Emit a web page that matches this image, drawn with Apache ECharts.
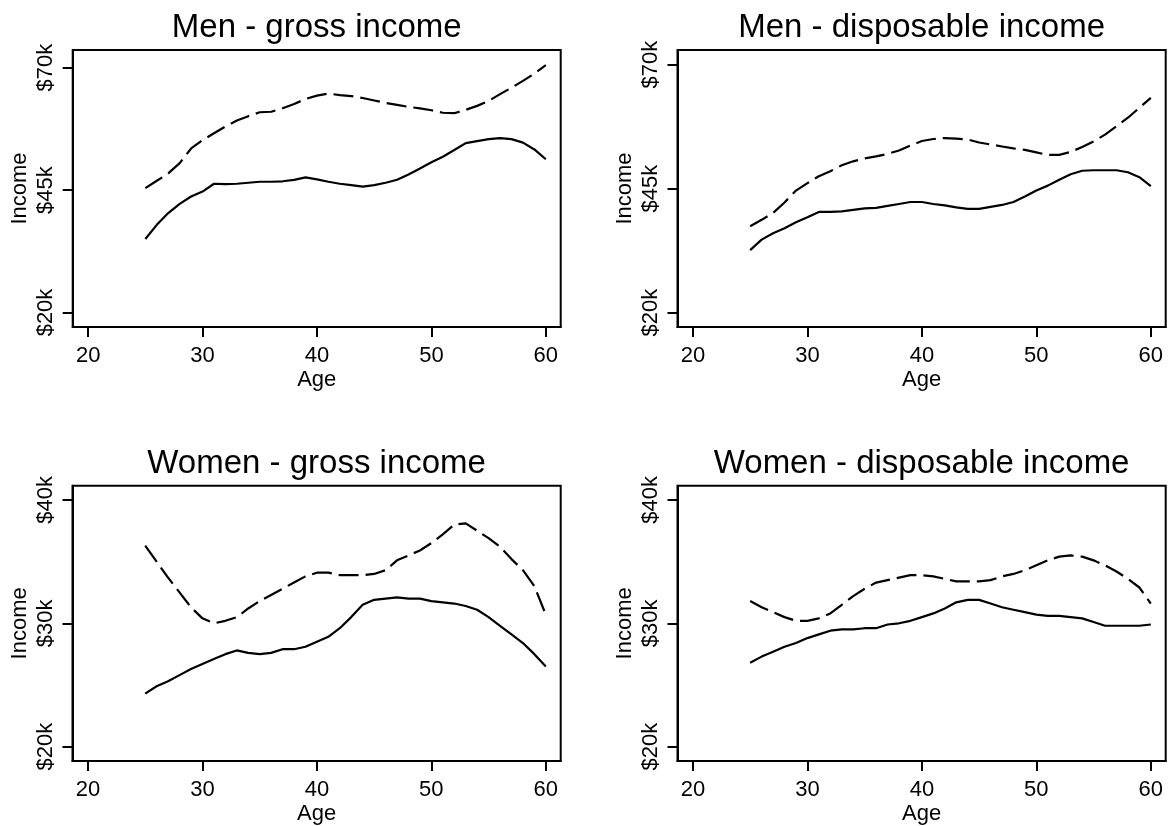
<!DOCTYPE html>
<html><head><meta charset="utf-8">
<script src="https://cdn.jsdelivr.net/npm/echarts@6/dist/echarts.min.js"></script>
<style>html,body{margin:0;padding:0;background:#fff}#c{width:1173px;height:826px}</style>
</head><body><div id="c"></div>
<script>
const ages = [25,26,27,28,29,30,31,32,33,34,35,36,37,38,39,40,41,42,43,44,45,46,47,48,49,50,51,52,53,54,55,56,57,58,59,60];

const menGrossSolid  = [35.0,37.9,40.3,42.2,43.7,44.7,46.3,46.2,46.3,46.5,46.7,46.7,46.8,47.1,47.6,47.2,46.7,46.3,46.0,45.7,46.0,46.5,47.1,48.2,49.4,50.7,51.8,53.2,54.6,55.0,55.4,55.6,55.4,54.7,53.3,51.3];
const menGrossDashed = [45.4,46.9,48.4,50.5,53.5,55.2,56.6,58.0,59.2,60.1,60.9,61.0,61.7,62.6,63.6,64.3,64.7,64.4,64.2,63.8,63.3,62.8,62.4,62.0,61.7,61.3,60.8,60.7,61.4,62.2,63.2,64.6,65.9,67.3,68.8,70.5];

const menDispSolid  = [32.6,34.7,36.0,37.0,38.2,39.2,40.3,40.3,40.4,40.7,41.0,41.1,41.5,41.9,42.3,42.3,41.9,41.6,41.2,40.9,40.9,41.3,41.7,42.3,43.4,44.6,45.6,46.8,47.9,48.6,48.7,48.7,48.7,48.3,47.3,45.5];
const menDispDashed = [37.4,38.7,40.1,42.2,44.6,46.1,47.5,48.5,49.7,50.5,51.1,51.5,52.0,52.7,53.7,54.6,55.0,55.2,55.1,54.9,54.3,53.9,53.5,53.1,52.8,52.3,51.8,51.8,52.4,53.4,54.5,55.9,57.6,59.3,61.3,63.3];

const womenGrossSolid  = [24.3,24.9,25.3,25.8,26.3,26.7,27.1,27.5,27.8,27.6,27.5,27.6,27.9,27.9,28.1,28.5,28.9,29.6,30.5,31.5,31.9,32.0,32.1,32.0,32.0,31.8,31.7,31.6,31.4,31.1,30.5,29.8,29.1,28.4,27.5,26.5];
const womenGrossDashed = [36.3,35.0,33.7,32.5,31.3,30.4,30.0,30.2,30.5,31.2,31.8,32.3,32.8,33.3,33.8,34.1,34.1,33.9,33.9,33.9,34.0,34.3,35.1,35.5,35.9,36.5,37.2,38.0,38.1,37.5,36.9,36.2,35.2,34.3,33.0,30.7];

const womenDispSolid  = [26.8,27.3,27.7,28.1,28.4,28.8,29.1,29.4,29.5,29.5,29.6,29.6,29.9,30.0,30.2,30.5,30.8,31.2,31.7,31.9,31.9,31.6,31.3,31.1,30.9,30.7,30.6,30.6,30.5,30.4,30.1,29.8,29.8,29.8,29.8,29.9];
const womenDispDashed = [31.8,31.3,30.9,30.5,30.2,30.2,30.4,30.8,31.5,32.2,32.8,33.3,33.5,33.7,33.9,33.9,33.8,33.6,33.4,33.4,33.4,33.5,33.8,34.0,34.3,34.7,35.1,35.4,35.5,35.4,35.1,34.7,34.2,33.6,32.9,31.6];

const panelTitles = ['Men - gross income','Men - disposable income','Women - gross income','Women - disposable income'];
const xTicks = [20,30,40,50,60];
const menYTicks = [20,45,70];
const womenYTicks = [20,30,40];

const panels = [
  {title: panelTitles[0], solid: menGrossSolid,   dashed: menGrossDashed,   yTicks: menYTicks},
  {title: panelTitles[1], solid: menDispSolid,    dashed: menDispDashed,    yTicks: menYTicks},
  {title: panelTitles[2], solid: womenGrossSolid, dashed: womenGrossDashed, yTicks: womenYTicks},
  {title: panelTitles[3], solid: womenDispSolid,  dashed: womenDispDashed,  yTicks: womenYTicks}
];

const FONT = "'Liberation Sans', Arial, Helvetica, sans-serif";
const layout = [
  {left:72.7,  top:50,    width:488,   height:277, ymin:17.04, ymax:73.61, xGap:42,   titleTop:11},
  {left:677.5, top:50,    width:488.2, height:277, ymin:17.08, ymax:72.96, xGap:42,   titleTop:11},
  {left:72.5,  top:485.7, width:488.2, height:277, ymin:18.84, ymax:41.15, xGap:42,   titleTop:447},
  {left:677.5, top:485.7, width:488.2, height:277, ymin:18.84, ymax:41.15, xGap:42,   titleTop:447}
];

const option = {
  animation: false,
  backgroundColor: '#fff',
  title: [], grid: [], xAxis: [], yAxis: [], series: []
};

panels.forEach((p, i) => {
  const L = layout[i];
  option.title.push({
    text: p.title, left: L.left + L.width / 2, top: L.titleTop, textAlign: 'center', padding: 0,
    textStyle: {fontSize: 33, fontWeight: 'normal', color: '#000', fontFamily: FONT}
  });
  option.grid.push({
    left: L.left, top: L.top, width: L.width, height: L.height,
    show: true, borderColor: '#000', borderWidth: 2, backgroundColor: '#fff', containLabel: false
  });
  const axisCommon = {
    axisLine: {show: true, onZero: false, lineStyle: {color: '#000', width: 2}},
    splitLine: {show: false}
  };
  option.xAxis.push(Object.assign({
    gridIndex: i, type: 'value', min: 18.65, max: 61.3,
    name: 'Age', nameLocation: 'middle', nameGap: L.xGap,
    nameTextStyle: {fontSize: 22, color: '#000', fontFamily: FONT},
    axisTick: {show: true, length: 10, lineStyle: {color: '#000', width: 2}, customValues: xTicks},
    axisLabel: {fontSize: 22, color: '#000', margin: 17.5, fontFamily: FONT, customValues: xTicks}
  }, axisCommon));
  option.yAxis.push(Object.assign({
    gridIndex: i, type: 'value', min: L.ymin, max: L.ymax,
    name: 'Income', nameLocation: 'middle', nameGap: 42, nameRotate: 90,
    nameTextStyle: {fontSize: 22, color: '#000', fontFamily: FONT},
    axisTick: {show: true, length: 10, lineStyle: {color: '#000', width: 2}, customValues: p.yTicks},
    axisLabel: {fontSize: 22, color: '#000', margin: 16, rotate: 90, fontFamily: FONT,
                customValues: p.yTicks, formatter: v => '$' + v + 'k'}
  }, axisCommon));
  option.series.push({
    type: 'line', xAxisIndex: i, yAxisIndex: i, symbol: 'none', silent: true,
    data: ages.map((a, j) => [a, p.solid[j]]),
    lineStyle: {color: '#000', width: 2.2, type: 'solid'}
  });
  option.series.push({
    type: 'line', xAxisIndex: i, yAxisIndex: i, symbol: 'none', silent: true,
    data: ages.map((a, j) => [a, p.dashed[j]]),
    lineStyle: {color: '#000', width: 2.2, type: [20, 7]}
  });
});

const chart = echarts.init(document.getElementById('c'), null, {renderer: 'canvas'});
chart.setOption(option);
</script>
</body></html>
